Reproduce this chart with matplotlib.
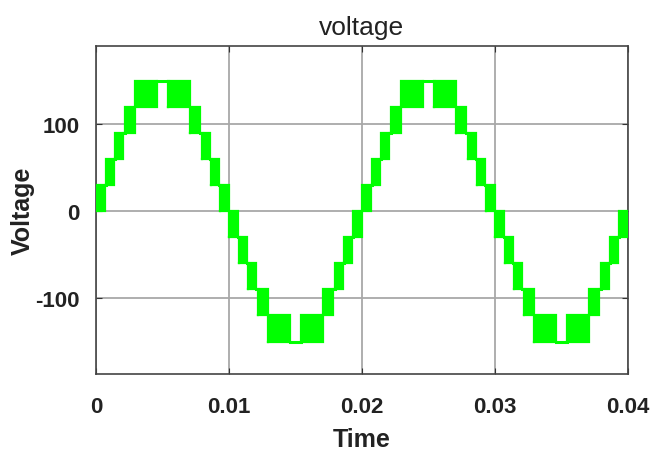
import matplotlib
matplotlib.use("Agg")
import matplotlib.pyplot as plt

plt.rcParams['font.family'] = ['Liberation Sans', 'DejaVu Sans']

# Positive half-cycle PWM bands: start time, end time, lower level, upper level
band_start = [0.00000, 0.00072, 0.00145, 0.00220, 0.00295, 0.00540, 0.00705, 0.00800, 0.00865, 0.00935]
band_end   = [0.00065, 0.00135, 0.00200, 0.00295, 0.00460, 0.00705, 0.00780, 0.00855, 0.00928, 0.01000]
band_lo    = [0, 30, 60, 90, 120, 120, 90, 60, 30, 0]
band_hi    = [30, 60, 90, 120, 150, 150, 120, 90, 60, 30]
half_period = 0.01
n_halves = 4

x_ticks = [0, 0.01, 0.02, 0.03, 0.04]
x_tick_labels = ["0", "0.01", "0.02", "0.03", "0.04"]
y_ticks = [-100, 0, 100]
y_tick_labels = ["-100", "0", "100"]

green = '#00FF00'

fig = plt.figure(figsize=(6.68, 4.52), dpi=100)
ax = fig.add_axes([0.1437, 0.170, 0.7963, 0.726])

blocks = []
for h in range(n_halves):
    sign = 1 if h % 2 == 0 else -1
    off = h * half_period
    for t0, t1, lo, hi in zip(band_start, band_end, band_lo, band_hi):
        a, b = sorted((sign * lo, sign * hi))
        blocks.append((t0 + off, t1 + off, a, b))

for t0, t1, lo, hi in blocks:
    ax.fill_between([t0, t1], [lo, lo], [hi, hi], color=green, linewidth=0, zorder=3)
    ax.plot([t0, t0, t1, t1, t0], [lo, hi, hi, lo, lo], color=green, lw=1.6, zorder=3,
            solid_joinstyle='miter')

for (a0, a1, alo, ahi), (b0, b1, blo, bhi) in zip(blocks[:-1], blocks[1:]):
    shared = set((alo, ahi)) & set((blo, bhi))
    if shared:
        lev = max(shared, key=abs)
        ax.plot([a1, b0], [lev, lev], color=green, lw=2.2, zorder=3)

ax.set_xlim(0, 0.04)
ax.set_ylim(-187.5, 190)
ax.set_xticks(x_ticks)
ax.set_xticklabels(x_tick_labels, fontsize=16, fontweight='bold')
ax.set_yticks(y_ticks)
ax.set_yticklabels(y_tick_labels, fontsize=16, fontweight='bold')
ax.tick_params(direction='in', length=4, width=0.8, top=True, right=True,
               colors='#333333', labelcolor='#222222')
ax.tick_params(axis='x', pad=16)
ax.tick_params(axis='y', pad=12)
ax.grid(True, color='#a8a8a8', lw=1.3)
ax.set_axisbelow(True)
for s in ax.spines.values():
    s.set_color('#444444')
    s.set_linewidth(1.2)

ax.set_title('voltage', fontsize=19, color='#222222', pad=9)
ax.set_xlabel('Time', fontsize=18, fontweight='bold', color='#222222', labelpad=7)
ax.set_ylabel('Voltage', fontsize=18, fontweight='bold', color='#222222', labelpad=0)

fig.savefig('out.png', dpi=100, facecolor='white')
